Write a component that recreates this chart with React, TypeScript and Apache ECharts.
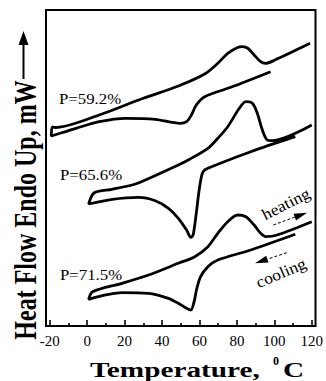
import React, { useEffect, useRef } from "react";
import * as echarts from "echarts";

// Axis ticks (temperature, °C)
const majorTicks = [-20, 0, 20, 40, 60, 80, 100, 120];
const minorTicks = [-10, 10, 30, 50, 70, 90, 110];

// Each loop: cooling run (right → left), turn-around hook, heating run (left → right)
// Heat flow in arbitrary units (offset curves, no y scale shown)
const p592Temp = [98.0, 76.8, 62.8, 58.3, 55.7, 53.1, 49.6, 36.4, 20.5, 6.4, -5.9, -18.3, -19.2, -18.6, -17.0, 6.4, 27.5, 48.7, 62.8, 69.8, 75.1, 80.4, 83.0, 86.0, 89.2, 92.7, 95.3, 99.8, 119.1];
const p592Flow = [25.43, 23.87, 22.93, 22.1, 21.1, 20.43, 20.27, 20.67, 20.77, 20.43, 19.77, 19.05, 19.0, 19.9, 19.85, 21.1, 22.6, 24.0, 25.2, 26.27, 27.27, 27.85, 27.93, 27.75, 27.1, 26.43, 26.27, 26.55, 28.27];

const p656Temp = [111.2, 87.4, 64.5, 61.9, 60.7, 59.6, 58.3, 56.6, 55.4, 53.1, 48.7, 43.4, 36.4, 27.5, 13.4, 0.8, 3.8, 13.4, 24.0, 29.3, 48.7, 54.0, 64.5, 69.8, 75.1, 81.3, 84.8, 88.3, 90.9, 93.6, 96.2, 98.9, 120.0];
const p656Flow = [18.93, 17.43, 15.77, 15.43, 14.6, 13.27, 11.27, 9.1, 8.87, 9.6, 10.77, 11.77, 12.53, 12.87, 12.67, 12.2, 13.33, 13.67, 14.1, 14.45, 16.1, 16.6, 17.77, 18.77, 19.93, 21.77, 22.43, 22.27, 21.27, 19.6, 18.6, 18.53, 20.1];

const p715Temp = [111.2, 87.4, 69.8, 64.5, 60.6, 58.4, 57.1, 55.4, 53.1, 48.7, 43.4, 32.8, 18.7, 0.8, 2.9, 18.7, 32.8, 48.7, 57.5, 64.5, 69.8, 75.1, 80.4, 84.8, 89.2, 92.7, 95.4, 101.5, 120.0];
const p715Flow = [9.17, 7.6, 6.6, 5.93, 4.93, 3.6, 2.4, 1.6, 1.77, 2.27, 2.77, 3.27, 3.33, 2.67, 3.43, 4.27, 5.1, 6.27, 6.93, 7.93, 9.27, 10.43, 11.1, 10.93, 10.1, 9.27, 8.93, 9.1, 10.43];

const curveLabels = ["P=59.2%", "P=65.6%", "P=71.5%"];

const serif = "Liberation Serif";

const pair = (t: number[], f: number[]) => t.map((v, i) => [v, f[i]]);

function arrowHead(tip: number[], tail: number[], len: number, half: number) {
  const dx = tip[0] - tail[0];
  const dy = tip[1] - tail[1];
  const d = Math.hypot(dx, dy);
  const ux = dx / d, uy = dy / d;
  const bx = tip[0] - len * ux, by = tip[1] - len * uy;
  const nx = -uy, ny = ux;
  return {
    base: [bx, by],
    pts: [tip, [bx + half * nx, by + half * ny], [bx - half * nx, by - half * ny]],
  };
}

function txt(text: string, x: number, y: number, size: number, bold: boolean, align: string, extra: any = {}) {
  return {
    type: "text",
    x,
    y,
    ...extra,
    style: {
      text,
      fill: "#000",
      fontSize: size,
      fontFamily: serif,
      fontWeight: bold ? "bold" : "normal",
      align,
      verticalAlign: "middle",
    },
  };
}

export default function App() {
  const ref = useRef<HTMLDivElement>(null);

  useEffect(() => {
    if (!ref.current) return;
    const chart = echarts.init(ref.current, undefined, { renderer: "svg" });

    const lineSeries = (data: number[][]) => ({
      type: "line",
      xAxisIndex: 0,
      yAxisIndex: 0,
      data,
      showSymbol: false,
      symbol: "none",
      smooth: 0.3,
      lineStyle: { color: "#000", width: 2.8 },
      silent: true,
    });

    const heatTail = [273.3, 225];
    const heatTip = [307, 212.7];
    const heatA = arrowHead(heatTip, heatTail, 13, 3.6);
    const coolTail = [286.7, 252.7];
    const coolTip = [255, 263.3];
    const coolA = arrowHead(coolTip, coolTail, 13, 3.6);

    const option: any = {
      animation: false,
      backgroundColor: "#fff",
      grid: {
        left: 46,
        top: 10,
        right: 7.5,
        bottom: 55,
        show: true,
        borderColor: "#000",
        borderWidth: 2,
        backgroundColor: "transparent",
      },
      xAxis: [
        {
          type: "value",
          min: -22,
          max: 122,
          position: "bottom",
          axisLine: { show: true, onZero: false, lineStyle: { color: "#000", width: 2 } },
          axisTick: {
            show: true,
            inside: true,
            length: 6,
            customValues: majorTicks,
            lineStyle: { color: "#000", width: 1.6 },
          },
          axisLabel: {
            show: true,
            customValues: majorTicks,
            margin: 7,
            color: "#000",
            fontFamily: serif,
            fontSize: 15,
          },
          splitLine: { show: false },
        },
        {
          type: "value",
          min: -22,
          max: 122,
          position: "bottom",
          gridIndex: 0,
          axisLine: { show: false },
          axisTick: {
            show: true,
            inside: true,
            length: 3,
            customValues: minorTicks,
            lineStyle: { color: "#000", width: 1.6 },
          },
          axisLabel: { show: false },
          splitLine: { show: false },
        },
      ],
      yAxis: { type: "value", min: 0, max: 31.6, show: false },
      series: [
        lineSeries(pair(p592Temp, p592Flow)),
        lineSeries(pair(p656Temp, p656Flow)),
        lineSeries(pair(p715Temp, p715Flow)),
      ],
      graphic: [
        txt(curveLabels[0], 59, 98.5, 15, false, "left", { scaleX: 1.12 }),
        txt(curveLabels[1], 60, 175, 15, false, "left", { scaleX: 1.12 }),
        txt(curveLabels[2], 60, 275, 15, false, "left", { scaleX: 1.12 }),
        txt("heating", 286, 204, 16, false, "center", { rotation: (27 * Math.PI) / 180, scaleX: 1.1 }),
        txt("cooling", 281, 273, 16, false, "center", { rotation: (23 * Math.PI) / 180, scaleX: 1.1 }),
        {
          type: "line",
          shape: { x1: heatTail[0], y1: heatTail[1], x2: heatA.base[0], y2: heatA.base[1] },
          style: { stroke: "#000", lineWidth: 1, lineDash: [3, 2] },
        },
        { type: "polygon", shape: { points: heatA.pts }, style: { fill: "#000" } },
        {
          type: "line",
          shape: { x1: coolTail[0], y1: coolTail[1], x2: coolA.base[0], y2: coolA.base[1] },
          style: { stroke: "#000", lineWidth: 1, lineDash: [3, 2] },
        },
        { type: "polygon", shape: { points: coolA.pts }, style: { fill: "#000" } },
        // y-axis title with arrow
        txt("Heat Flow Endo Up, mW", 25.5, 210, 24, true, "center", { rotation: Math.PI / 2, scaleY: 1.3 }),
        {
          type: "line",
          shape: { x1: 23.5, y1: 79, x2: 23.5, y2: 44 },
          style: { stroke: "#000", lineWidth: 2 },
        },
        {
          type: "polygon",
          shape: { points: [[23.5, 31], [18.5, 45], [28.5, 45]] },
          style: { fill: "#000" },
        },
        // x-axis title
        txt("Temperature,", 90, 369.5, 22, true, "left", { scaleX: 1.33 }),
        txt("0", 273, 361, 12, true, "left"),
        txt("C", 283, 369.5, 22, true, "left", { scaleX: 1.33 }),
      ],
    };

    chart.setOption(option);
    return () => chart.dispose();
  }, []);

  return (
    <div
      ref={ref}
      style={{ position: "fixed", left: 0, top: 0, width: 326, height: 381, background: "#fff" }}
    />
  );
}
